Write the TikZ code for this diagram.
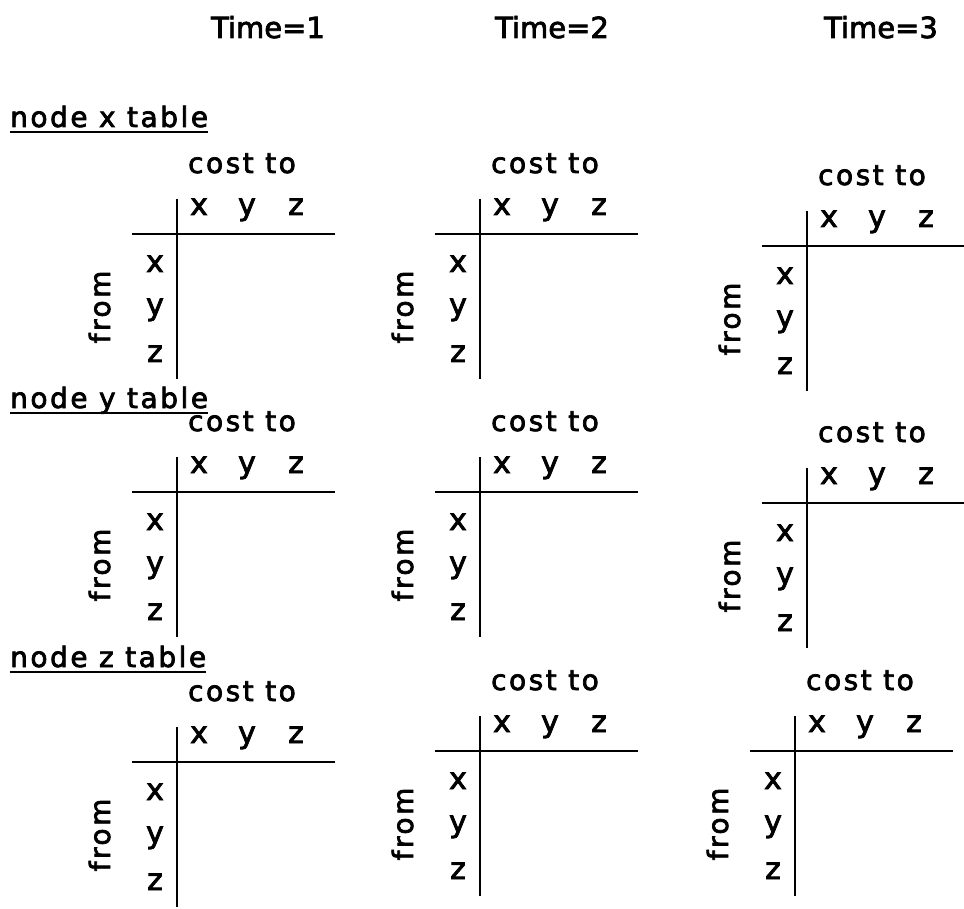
\documentclass[tikz,border=0pt]{standalone}
\usepackage{fontspec}
\setmainfont{DejaVu Sans}[FakeBold=2.6]
\newfontfamily\widefont[LetterSpace=9,FakeBold=2.6]{DejaVu Sans}
\newfontfamily\boldishfont[FakeBold=2.6]{DejaVu Sans}
\tikzset{
  tline/.style={line width=1.4pt},
  cell/.style={inner sep=0pt, anchor=base, font=\fontsize{30}{33}\boldishfont},
  widecell/.style={inner sep=0pt, anchor=base, font=\fontsize{28}{31}\widefont},
  timelbl/.style={inner sep=0pt, anchor=base, font=\fontsize{29}{32}\boldishfont},
  sect/.style={inner sep=0pt, anchor=base west, font=\fontsize{28}{31}\widefont},
  uline/.style={line width=1.4pt}
}
\newcommand\costtable[3]{%
\begin{scope}[shift={(#2,#3)}]
  \coordinate (#1-vt) at (0,-35);
  \coordinate (#1-vb) at (0,145);
  \coordinate (#1-hl) at (-45,0);
  \coordinate (#1-hr) at (158,0);
  \draw[tline] (#1-vt) -- (#1-vb);
  \draw[tline] (#1-hl) -- (#1-hr);
  \node[widecell] (#1-cost) at (65,-61) {cost to};
  \node[cell] (#1-cx) at (22,-19) {x};
  \node[cell] (#1-cy) at (70,-19) {y};
  \node[cell] (#1-cz) at (119,-19) {z};
  \node[cell] (#1-rx) at (-22,38) {x};
  \node[cell] (#1-ry) at (-22,81) {y};
  \node[cell] (#1-rz) at (-22,128) {z};
  \node[widecell, rotate=90] (#1-from) at (-67,73) {from};
\end{scope}}
\begin{document}
\begin{tikzpicture}[x=1pt,y=-1pt]
\fill[white] (0,0) rectangle (964,909);
\useasboundingbox (0,0) rectangle (964,909);
% time headings
\node[timelbl] (t1) at (268,38) {Time=1};
\node[timelbl] (t2) at (552,38) {Time=2};
\node[timelbl] (t3) at (881,38) {Time=3};
% section headings
\node[sect] (nx) at (10,127) {node x table};
\draw[uline] ([yshift=-5pt]nx.base west) -- ([yshift=-5pt]nx.base east);
\node[sect] (ny) at (10,408) {node y table};
\draw[uline] ([yshift=-5pt]ny.base west) -- ([yshift=-5pt]ny.base east);
\node[sect] (nz) at (10,667) {node z table};
\draw[uline] ([yshift=-5pt]nz.base west) -- ([yshift=-5pt]nz.base east);
% tables
\costtable{xa}{177}{234}
\costtable{xb}{480}{234}
\costtable{xc}{807}{246}
\costtable{ya}{177}{492}
\costtable{yb}{480}{492}
\costtable{yc}{807}{503}
\costtable{za}{177}{762}
\costtable{zb}{480}{751}
\costtable{zc}{795}{751}
\end{tikzpicture}
\end{document}
